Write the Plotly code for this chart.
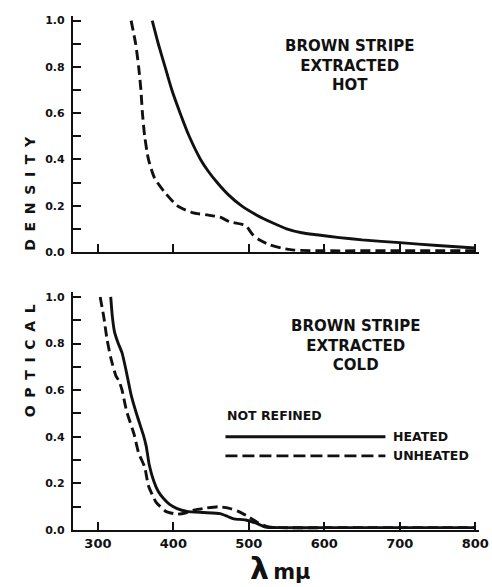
import plotly.graph_objects as go

# ---- data ----
hot_solid_x = [372, 380, 389, 398, 409, 421, 436, 446, 458, 472, 490, 510, 532, 550, 570, 590, 620, 650, 700, 750, 800]
hot_solid_y = [1.0, 0.9, 0.8, 0.7, 0.6, 0.5, 0.4, 0.35, 0.30, 0.25, 0.2, 0.16, 0.125, 0.1, 0.083, 0.074, 0.062, 0.052, 0.04, 0.028, 0.017]

hot_dash_x = [344, 350, 354, 357, 359, 362, 367, 375, 388, 405, 425, 445, 462, 475, 490, 497, 505, 515, 528, 545, 560, 600, 700, 800]
hot_dash_y = [1.0, 0.9, 0.8, 0.7, 0.6, 0.5, 0.4, 0.32, 0.26, 0.2, 0.17, 0.16, 0.15, 0.13, 0.12, 0.11, 0.075, 0.05, 0.03, 0.015, 0.008, 0.005, 0.005, 0.005]

cold_heated_x = [317, 319, 322, 327, 332, 337, 344, 352, 360, 364, 368, 374, 380, 387, 395, 405, 418, 440, 462, 472, 480, 496, 509, 522, 540, 600, 700, 800]
cold_heated_y = [1.0, 0.92, 0.85, 0.8, 0.76, 0.69, 0.58, 0.49, 0.41, 0.36, 0.28, 0.21, 0.165, 0.135, 0.11, 0.092, 0.08, 0.075, 0.07, 0.058, 0.048, 0.043, 0.03, 0.013, 0.01, 0.01, 0.01, 0.01]

cold_unheated_x = [303, 308, 312, 317, 324, 328, 332, 338, 348, 354, 362, 367, 377, 390, 405, 416, 428, 443, 460, 473, 486, 500, 513, 526, 540, 600, 700, 800]
cold_unheated_y = [1.0, 0.91, 0.82, 0.74, 0.66, 0.64, 0.6, 0.51, 0.41, 0.33, 0.27, 0.19, 0.12, 0.08, 0.068, 0.073, 0.086, 0.094, 0.1, 0.094, 0.08, 0.056, 0.03, 0.013, 0.01, 0.01, 0.01, 0.01]

x_ticks = [300, 400, 500, 600, 700, 800]
y_ticks = [0.0, 0.2, 0.4, 0.6, 0.8, 1.0]
y_tick_labels = ["0.0", "0.2", "0.4", "0.6", "0.8", "1.0"]

FONT = "DejaVu Sans"
BLACK = "#111111"
DASH = "10px,5px"
LW = 2.9

fig = go.Figure()
fig.add_trace(go.Scatter(x=hot_solid_x, y=hot_solid_y, mode="lines", line=dict(color=BLACK, width=LW, shape="spline", smoothing=0.6), xaxis="x", yaxis="y", showlegend=False))
fig.add_trace(go.Scatter(x=hot_dash_x, y=hot_dash_y, mode="lines", line=dict(color=BLACK, width=LW, dash=DASH, shape="spline", smoothing=0.6), xaxis="x", yaxis="y", showlegend=False))
fig.add_trace(go.Scatter(x=cold_heated_x, y=cold_heated_y, mode="lines", line=dict(color=BLACK, width=LW, shape="spline", smoothing=0.5), xaxis="x2", yaxis="y2", showlegend=False))
fig.add_trace(go.Scatter(x=cold_unheated_x, y=cold_unheated_y, mode="lines", line=dict(color=BLACK, width=LW, dash=DASH, shape="spline", smoothing=0.5), xaxis="x2", yaxis="y2", showlegend=False))

xcommon = dict(range=[267, 805], showline=True, linecolor=BLACK, linewidth=2.2, tickmode="array", tickvals=x_ticks,
               ticks="inside", ticklen=8, tickwidth=1.5, tickcolor=BLACK, showgrid=False, zeroline=False,
               automargin=False,
               tickfont=dict(family=FONT, size=13, color=BLACK, weight="bold"))
ycommon = dict(range=[0, 1.02], showline=True, linecolor=BLACK, linewidth=2.2, tickmode="array", tickvals=y_ticks,
               ticktext=y_tick_labels, ticks="inside", ticklen=8, tickwidth=1.5, tickcolor=BLACK, showgrid=False,
               zeroline=False, ticklabelstandoff=4, automargin=False,
               minor=dict(dtick=0.1, ticks="inside", ticklen=8, tickwidth=1.5, tickcolor=BLACK, showgrid=False),
               tickfont=dict(family=FONT, size=11, color=BLACK, weight="bold"))

fig.update_layout(
    width=492, height=587, autosize=False,
    margin=dict(l=73, r=13, t=16, b=57, autoexpand=False),
    paper_bgcolor="white", plot_bgcolor="white",
    xaxis=dict(xcommon, anchor="y", domain=[0, 1], showticklabels=False),
    yaxis=dict(ycommon, anchor="x", domain=[0.541, 1.0]),
    xaxis2=dict(xcommon, anchor="y2", domain=[0, 1], showticklabels=True),
    yaxis2=dict(ycommon, anchor="x2", domain=[0, 0.4625]),
)

ann_font = dict(family=FONT, size=15, color=BLACK, weight="bold")
fig.add_annotation(x=634, y=0.805, xref="x", yref="y", text="BROWN STRIPE<br>EXTRACTED<br>HOT",
                   showarrow=False, font=ann_font, align="center")
fig.add_annotation(x=642, y=0.79, xref="x2", yref="y2", text="BROWN STRIPE<br>EXTRACTED<br>COLD",
                   showarrow=False, font=ann_font, align="center")

# legend
leg_font = dict(family=FONT, size=12.5, color=BLACK, weight="bold")
fig.add_annotation(x=469, y=0.49, xref="x2", yref="y2", text="NOT REFINED", showarrow=False,
                   xanchor="left", font=leg_font)
fig.add_shape(type="line", x0=469, x1=681, y0=0.40, y1=0.40, xref="x2", yref="y2",
              line=dict(color=BLACK, width=LW))
fig.add_shape(type="line", x0=469, x1=681, y0=0.318, y1=0.318, xref="x2", yref="y2",
              line=dict(color=BLACK, width=LW, dash="12px,5px"))
fig.add_annotation(x=688, y=0.40, xref="x2", yref="y2", text="HEATED", showarrow=False,
                   xanchor="left", font=leg_font)
fig.add_annotation(x=688, y=0.318, xref="x2", yref="y2", text="UNHEATED", showarrow=False,
                   xanchor="left", font=leg_font)

# axis titles
sp = "\u00a0\u2009"
ytitle = sp.join("OPTICAL") + "\u00a0" * 11 + sp.join("DENSITY")
fig.add_annotation(x=-0.13, y=0.492, xref="paper", yref="paper", text=ytitle, textangle=-90,
                   showarrow=False, font=dict(family=FONT, size=14, color=BLACK, weight="bold"))
fig.add_annotation(x=0.512, y=-0.037, xref="paper", yref="paper", yanchor="top",
                   text="<span style='font-size:30px'>λ</span>\u2009<span style='font-size:21px'>mμ</span>",
                   showarrow=False, font=dict(family=FONT, size=21, color=BLACK, weight="bold"))

fig.write_html("out.html", post_script="document.body.style.margin='0';",
               config={"displayModeBar": False})
